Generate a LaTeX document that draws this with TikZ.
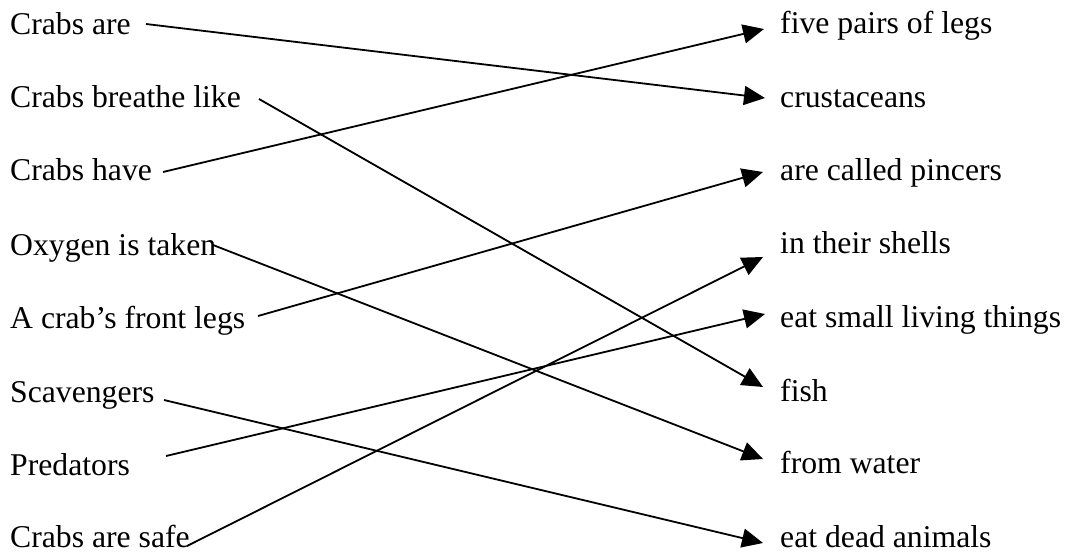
\documentclass[tikz,border=0pt]{standalone}
\usepackage{fontspec}
\setmainfont{Liberation Serif}
\usetikzlibrary{arrows.meta}
\tikzset{
  lbl/.style={anchor=base west, inner sep=0pt, font=\fontsize{31.7}{38}\selectfont},
  conn/.style={line width=1.8pt, -{Triangle[length=21pt,width=19pt]}}
}
\begin{document}
\begin{tikzpicture}[x=1pt,y=-1pt]
\useasboundingbox (0,0) rectangle (1068,554);
% left column
\node[lbl] (l1) at (10,34) {Crabs are};
\node[lbl] (l2) at (10,107) {Crabs breathe like};
\node[lbl] (l3) at (10,180) {Crabs have};
\node[lbl] (l4) at (10,255) {Oxygen is taken};
\node[lbl] (l5) at (10,328) {A crab’s front legs};
\node[lbl] (l6) at (10,402) {Scavengers};
\node[lbl] (l7) at (10,475) {Predators};
\node[lbl] (l8) at (10,547) {Crabs are safe};
% right column
\node[lbl] (r1) at (780,33) {five pairs of legs};
\node[lbl] (r2) at (780,107) {crustaceans};
\node[lbl] (r3) at (780,180) {are called pincers};
\node[lbl] (r4) at (780,253) {in their shells};
\node[lbl] (r5) at (780,327) {eat small living things};
\node[lbl] (r6) at (780,401) {fish};
\node[lbl] (r7) at (780,473) {from water};
\node[lbl] (r8) at (780,547) {eat dead animals};
% connector ends
\coordinate (s1) at (146,24);
\coordinate (s2) at (259,99);
\coordinate (s3) at (163,172);
\coordinate (s4) at (213,245);
\coordinate (s5) at (258,316);
\coordinate (s6) at (164,400);
\coordinate (s7) at (166,456);
\coordinate (s8) at (187,546);
\coordinate (t1) at (764,29);
\coordinate (t2) at (765,98);
\coordinate (t3) at (763,172);
\coordinate (t4) at (763,257);
\coordinate (t5) at (765,314);
\coordinate (t6) at (763,387);
\coordinate (t7) at (763,459);
\coordinate (t8) at (763,543);
% connectors
\draw[conn] (s1) -- (t2);
\draw[conn] (s2) -- (t6);
\draw[conn] (s3) -- (t1);
\draw[conn] (s4) -- (t7);
\draw[conn] (s5) -- (t3);
\draw[conn] (s6) -- (t8);
\draw[conn] (s7) -- (t5);
\draw[conn] (s8) -- (t4);
\end{tikzpicture}
\end{document}
